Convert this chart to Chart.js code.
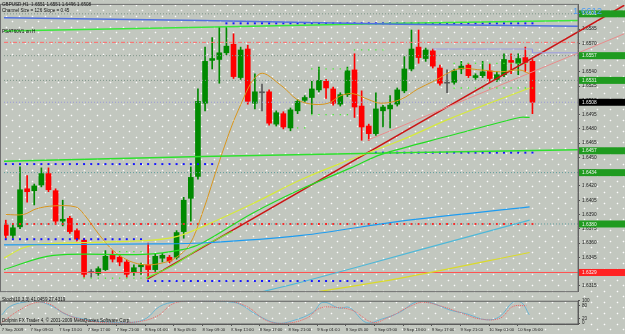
<!DOCTYPE html>
<html><head><meta charset="utf-8">
<script src="https://cdn.jsdelivr.net/npm/chart.js@4.4.1/dist/chart.umd.min.js"></script>
<style>
html,body{margin:0;padding:0;background:#c4c9c1;}
#wrap{position:relative;width:625px;height:334px;overflow:hidden;background-color:#c2c7bf;
background-image:radial-gradient(circle,rgba(255,255,255,0.95) 0.7px,rgba(255,255,255,0) 1.1px),radial-gradient(circle,rgba(255,255,255,0.95) 0.7px,rgba(255,255,255,0) 1.1px);
background-size:13px 11px,13px 11px;background-position:0 0,6px 5px;}
canvas{position:absolute;left:0;}
</style></head><body>
<div id="wrap">
<canvas id="main" width="625" height="296" style="top:0"></canvas>
<canvas id="stoch" width="625" height="38" style="top:296px"></canvas>
</div>
<script>
// ---- candles (GBPUSD H1, bar 0 = 7 Sep 05:00) ----
const opens  = [1.6379,1.6368,1.6377,1.6417,1.6415,1.6421,1.6433,1.6415,1.6383,1.6386,1.6373,1.6363,1.6329,1.6328,1.6332,1.6347,1.6345,1.6340,1.6329,1.6335,1.6337,1.6332,1.6344,1.6345,1.6345,1.6372,1.6407,1.6430,1.6507,1.6552,1.6553,1.6560,1.6569,1.6534,1.6564,1.6507,1.6518,1.6519,1.6485,1.6496,1.6481,1.6499,1.6510,1.6513,1.6521,1.6530,1.6522,1.6506,1.6516,1.6542,1.6504,1.6483,1.6475,1.6499,1.6501,1.6506,1.6520,1.6543,1.6566,1.6554,1.6562,1.6544,1.6528,1.6529,1.6543,1.6547,1.6534,1.6536,1.6541,1.6532,1.6537,1.6552,1.6549,1.6555,1.6551];
const highs  = [1.6384,1.6380,1.6440,1.6431,1.6422,1.6439,1.6439,1.6417,1.6405,1.6388,1.6375,1.6365,1.6332,1.6335,1.6352,1.6352,1.6348,1.6342,1.6337,1.6339,1.6360,1.6349,1.6349,1.6347,1.6373,1.6408,1.6440,1.6522,1.6566,1.6576,1.6587,1.6587,1.6580,1.6566,1.6568,1.6538,1.6527,1.6521,1.6499,1.6498,1.6502,1.6511,1.6515,1.6530,1.6545,1.6532,1.6524,1.6518,1.6545,1.6559,1.6520,1.6485,1.6518,1.6505,1.6515,1.6523,1.6556,1.6584,1.6584,1.6565,1.6564,1.6547,1.6542,1.6543,1.6551,1.6549,1.6538,1.6551,1.6548,1.6540,1.6559,1.6559,1.6559,1.6566,1.6553];
const lows   = [1.6365,1.6365,1.6375,1.6403,1.6400,1.6419,1.6414,1.6381,1.6378,1.6370,1.6362,1.6324,1.6324,1.6326,1.6331,1.6340,1.6336,1.6324,1.6326,1.6327,1.6324,1.6330,1.6340,1.6339,1.6343,1.6365,1.6383,1.6427,1.6499,1.6543,1.6528,1.6558,1.6533,1.6532,1.6506,1.6501,1.6499,1.6484,1.6483,1.6480,1.6478,1.6496,1.6508,1.6496,1.6519,1.6512,1.6505,1.6504,1.6514,1.6492,1.6468,1.6468,1.6473,1.6482,1.6481,1.6504,1.6518,1.6541,1.6549,1.6551,1.6544,1.6526,1.6518,1.6527,1.6538,1.6534,1.6532,1.6534,1.6530,1.6530,1.6535,1.6538,1.6537,1.6540,1.6496];
const closes = [1.6368,1.6376,1.6416,1.6414,1.6420,1.6433,1.6416,1.6383,1.6385,1.6372,1.6364,1.6327,1.6329,1.6333,1.6346,1.6343,1.6340,1.6327,1.6334,1.6337,1.6332,1.6346,1.6347,1.6341,1.6371,1.6405,1.6429,1.6509,1.6551,1.6554,1.6560,1.6567,1.6535,1.6563,1.6509,1.6519,1.6518,1.6486,1.6497,1.6482,1.6500,1.6509,1.6513,1.6522,1.6531,1.6523,1.6507,1.6516,1.6541,1.6503,1.6482,1.6475,1.6501,1.6503,1.6505,1.6521,1.6543,1.6564,1.6555,1.6563,1.6546,1.6528,1.6528,1.6541,1.6546,1.6536,1.6536,1.6540,1.6533,1.6537,1.6553,1.6550,1.6554,1.6550,1.6508];

// ---- axis ticks ----
const priceTicks = [1.6600,1.6585,1.6570,1.6555,1.6540,1.6525,1.6510,1.6495,1.6480,1.6465,1.6450,1.6435,1.6420,1.6405,1.6390,1.6375,1.6360,1.6345,1.6330,1.6315];
const timeTickBars = [0,4,8,12,16,20,24,28,32,36,40,44,48,52,56,60,64,68,72];
const timeLabels = ["7 Sep 2009","7 Sep 09:00","7 Sep 13:00","7 Sep 17:00","7 Sep 21:00","8 Sep 01:00","8 Sep 05:00","8 Sep 09:00","8 Sep 13:00","8 Sep 17:00","8 Sep 21:00","9 Sep 01:00","9 Sep 05:00","9 Sep 09:00","9 Sep 13:00","9 Sep 17:00","9 Sep 21:00","10 Sep 01:00","10 Sep 05:00"];
const stochTicks = [100,80,20,0];

// ---- indicator lines [bar, price] ----
const maOrange = [[0,1.6390],[2.5,1.6390],[4.3,1.6396],[6.7,1.6399],[9.8,1.6398],[10.9,1.6391],[13.2,1.6368],[15.1,1.6352],[17.4,1.6341],[19.7,1.6337],[22.0,1.6339],[23.8,1.6344],[25.8,1.6358],[27.6,1.6391],[30.1,1.6448],[32.8,1.6502],[35.7,1.6538],[38.8,1.6525],[40.9,1.6511],[43.0,1.6506],[45.3,1.6507],[47.1,1.6515],[48.8,1.6517],[50.9,1.6511],[52.7,1.6507],[55.5,1.6511],[57.9,1.6522],[60.1,1.6530],[63.5,1.6543],[66.7,1.6542],[69.5,1.6540],[72.2,1.6542],[73.6,1.6538]];
const maYellow = [[-0.3,1.6344],[2.5,1.6355],[5.3,1.6359],[13.7,1.6361],[20.6,1.6363],[24.1,1.6367],[27.6,1.6377],[34.6,1.6401],[41.6,1.6427],[48.5,1.6448],[55.5,1.6468],[62.5,1.6491],[73.6,1.6523]];
const maGreen = [[-0.3,1.6332],[6.7,1.6347],[19.3,1.6348],[24.8,1.6353],[27.6,1.6360],[34.6,1.6391],[41.6,1.6417],[48.5,1.6439],[52.7,1.6453],[62.5,1.6473],[72.2,1.6492],[73.6,1.6492]];
const maLime = [[19.7,1.6323],[23.4,1.6336],[27.6,1.6356],[31.8,1.6372]];
const maSky = [[-0.3,1.6358],[20.6,1.6359],[27.6,1.6360],[41.6,1.6368],[55.5,1.6383],[73.6,1.6398]];
const maTeal = [[33.9,1.6305],[41.6,1.6319],[58.3,1.6353],[73.6,1.6384]];
const maYellowLow = [[42.3,1.6307],[55.5,1.6323],[73.6,1.6350]];
const topBlue = [[-0.3,1.6597],[27.6,1.6594],[55.5,1.6590],[80.4,1.6588]];
const topGreen = [[-0.3,1.6583],[27.6,1.6587],[55.5,1.6591],[80.4,1.6594]];
const midGreen = [[-0.3,1.6446],[27.6,1.6451],[55.5,1.6455],[80.4,1.6458]];
const lavender = [[60,1.6564],[74,1.6564],[74,1.6560],[80.4,1.6560]];
const trendRed = [[19.9,1.6322],[86.9,1.6610]];
const trendPink = [[50.8,1.6468],[86.9,1.6580]];

// ---- horizontal levels ----
const blueDotLevels = [{from:0,to:29,price:1.6443},{from:0,to:19,price:1.6364},{from:20,to:50,price:1.6320},{from:51,to:74,price:1.6455},{from:31,to:74,price:1.6591}];
const redDotLevels = [{from:0,to:74,price:1.6380}];
const limeDotLevels = [{from:11,to:19,price:1.6323},{from:16,to:19,price:1.6351},{from:41,to:42,price:1.6481},{from:43,to:48,price:1.6543},{from:43,to:48,price:1.6495},{from:49,to:53,price:1.6563},{from:63,to:73,price:1.6549},{from:63,to:74,price:1.6523}];
const boxLevels = [{price:1.6601,kind:'g'},{price:1.6557,kind:'g'},{price:1.6531,kind:'g'},{price:1.6508,kind:'k'},{price:1.6457,kind:'g'},{price:1.6434,kind:'g'},{price:1.6380,kind:'g'},{price:1.6329,kind:'r'}];
const redDashLevel = 1.6571;

// ---- stochastic [bar, value] ----
const stochK = [[0,37],[1.1,74],[3.5,96],[5.3,96],[7.1,74],[9.1,37],[11.3,19],[13.7,7],[18.3,4],[20.2,22],[22.0,74],[24.4,96],[27.6,100],[31.4,96],[33.2,85],[35.6,37],[38.4,0],[40.6,11],[43.4,48],[44.8,93],[47.1,67],[48.5,70],[50.9,2],[53.1,19],[55.5,48],[57.9,96],[59.7,93],[62.5,59],[64.9,41],[67.6,15],[69.5,30],[71.3,93],[72.5,93],[73.6,37]];
const stochD = [[0,4],[2.5,59],[4.9,93],[6.7,85],[8.5,48],[10.5,22],[13.7,4],[18.3,4],[21.6,30],[23.8,85],[26.2,100],[31.4,100],[34.2,74],[37.0,11],[39.7,0],[42.5,22],[44.4,67],[46.7,70],[49.0,56],[51.7,4],[53.7,22],[56.9,74],[58.7,93],[61.1,78],[63.9,48],[66.7,19],[69.5,22],[71.3,74],[73.2,78]];

const X_MIN=-0.25, X_MAX=80.4, Y_MIN=1.63094, Y_MAX=1.66104;
const FONT='"Liberation Sans", Arial, sans-serif';

const idx = closes.map((_,i)=>i);
const col = idx.map(i => closes[i]>opens[i] ? '#008a00' : (closes[i]<opens[i] ? '#ff0000' : '#5a5a5a'));
const pts = a => a.map(([x,y])=>({x,y}));
const lvl = L => { const o=[]; L.forEach(l=>{ for(let i=l.from;i<=l.to;i++) o.push({x:i,y:l.price}); }); return o; };

function line(data,color,w,extra){ return Object.assign({type:'line',data:pts(data),borderColor:color,borderWidth:w,pointRadius:0,tension:0.35,order:1,fill:false},extra||{}); }
function hline(p,color,w,dash){ return {type:'line',data:[{x:X_MIN,y:p},{x:X_MAX,y:p}],borderColor:color,borderWidth:w,borderDash:dash||[],pointRadius:0,order:15}; }
function dots(L,color,r,style){ return {type:'line',data:lvl(L),showLine:false,pointStyle:style||'rect',pointRadius:r,pointBackgroundColor:color,pointBorderWidth:0,order:2}; }

const overflow = {left:0,top:0,right:50,bottom:0};

const mainPlugin = {
  id:'mainDeco',
  afterDraw(c){
    const ctx=c.ctx, a=c.chartArea, ys=c.scales.y;
    ctx.save();
    ctx.strokeStyle='#707070'; ctx.lineWidth=1;
    ctx.strokeRect(0.5,a.top-0.5,a.right-0.5,a.bottom-a.top+1);
    // axis boxes
    ctx.font='4.8px '+FONT; ctx.textBaseline='middle';
    boxLevels.forEach(b=>{
      const y=ys.getPixelForValue(b.price);
      ctx.fillStyle = b.kind==='g' ? '#1f9b1f' : (b.kind==='k' ? '#000000' : '#ff2222');
      ctx.fillRect(a.right+1,y-3.5,46,7);
      ctx.fillStyle = '#f4f4f4';
      ctx.fillText(b.price.toFixed(4),a.right+4,y+0.3);
    });
    // texts
    ctx.fillStyle='#111'; ctx.font='4.6px '+FONT;
    ctx.fillText('GBPUSD,H1  1.6551 1.6551 1.6496 1.6508',2,5);
    ctx.fillText('Channel Size = 126 Slope = 0.45',2,10.5);
    ctx.fillText('PSAT60V1 on H',2,32);
    ctx.fillStyle='#4f9cf0'; ctx.font='9.5px '+FONT;
    ctx.fillText('1.6612',573,11);
    ctx.restore();
  }
};

new Chart(document.getElementById('main'),{
  type:'bar',
  data:{datasets:[
    {type:'bar',data:idx.map(i=>({x:i,y:[lows[i],highs[i]]})),backgroundColor:col,barThickness:1,grouped:false,order:21},
    {type:'bar',data:idx.map(i=>({x:i,y:[opens[i],closes[i]]})),backgroundColor:col,barThickness:5,minBarLength:1,grouped:false,order:20},
    hline(boxLevels[0].price,'#7f968a',1,[1,2]),
    hline(boxLevels[1].price,'#7f968a',1,[1,2]),
    hline(boxLevels[2].price,'#7f968a',1,[1,2]),
    hline(boxLevels[3].price,'#9a9ad8',1,[1,2]),
    hline(boxLevels[5].price,'#5f9c9c',1,[1,2]),
    hline(boxLevels[6].price,'#5f9c9c',1,[1,2]),
    hline(boxLevels[7].price,'#ff5050',1),
    hline(redDashLevel,'#ff6a6a',1,[4,2,1,2]),
    dots(blueDotLevels,'#1414ff',1.4),
    dots(redDotLevels,'#ff2020',1.3),
    dots(limeDotLevels,'#44ee33',0.9),
    line(topBlue,'#5070e0',1.5,{tension:0}),
    line(topGreen,'#3ae83a',1.5,{tension:0}),
    line(midGreen,'#2ee02e',1.5,{tension:0}),
    line(lavender,'#9a9ae0',1,{tension:0}),
    line(maSky,'#1e9cf0',1.2),
    line(maTeal,'#4fb8d8',1.2),
    line(maYellowLow,'#dada2a',1.2),
    line(maGreen,'#22dd22',1.2),
    line(maLime,'#66ee33',1.2),
    line(maYellow,'#d6ea3a',1.2),
    line(maOrange,'#d8961e',1),
    line(trendPink,'#e88c8c',1,{tension:0,clip:overflow}),
    line(trendRed,'#cc1414',1.5,{tension:0,clip:overflow})
  ]},
  options:{
    responsive:false, animation:false, events:[],
    layout:{padding:{top:2,bottom:2,left:0,right:0}},
    plugins:{legend:{display:false},tooltip:{enabled:false}},
    scales:{
      x:{type:'linear',min:X_MIN,max:X_MAX,display:false,offset:false},
      y:{type:'linear',position:'right',min:Y_MIN,max:Y_MAX,beginAtZero:false,
        afterFit:s=>{s.width=47;},
        afterBuildTicks:s=>{s.ticks=priceTicks.map(v=>({value:v}));},
        ticks:{autoSkip:false,font:{family:FONT,size:4.8},color:'#222',padding:2,callback:v=>Number(v).toFixed(4)},
        grid:{drawOnChartArea:false,tickLength:2,color:'#555'},
        border:{color:'#555'}}
    }
  },
  plugins:[mainPlugin]
});

const stochPlugin = {
  id:'stochDeco',
  afterDraw(c){
    const ctx=c.ctx, a=c.chartArea;
    ctx.save();
    ctx.strokeStyle='#606060'; ctx.lineWidth=1;
    ctx.strokeRect(0.5,a.top+0.5,a.right-0.5,a.bottom-a.top-0.5);
    ctx.fillStyle='#111'; ctx.font='4.6px '+FONT; ctx.textBaseline='middle';
    ctx.fillText('Stoch(10,3,3) 41.0459 27.4319',2,4);
    ctx.fillText('Dolphin FX Trader 4, \u00a9 2001-2009 MetaQuotes Software Corp.',2,25);
    ctx.restore();
  }
};

new Chart(document.getElementById('stoch'),{
  type:'line',
  data:{datasets:[
    {data:pts(stochD),borderColor:'#ee6060',borderWidth:1,borderDash:[1,1],pointRadius:0,tension:0.4},
    {data:pts(stochK),borderColor:'#6ab4d2',borderWidth:1,pointRadius:0,tension:0.4}
  ]},
  options:{
    responsive:false, animation:false, events:[],
    layout:{padding:{top:0,bottom:0,left:0,right:0}},
    plugins:{legend:{display:false},tooltip:{enabled:false}},
    scales:{
      x:{type:'linear',min:X_MIN,max:X_MAX,offset:false,
        afterFit:s=>{s.height=10;},
        afterBuildTicks:s=>{s.ticks=timeTickBars.map(v=>({value:v}));},
        ticks:{autoSkip:false,maxRotation:0,align:'start',font:{family:FONT,size:4.2},color:'#222',padding:1,callback:(v,i)=>timeLabels[i]},
        grid:{drawOnChartArea:false,tickLength:2,color:'#555'},
        border:{color:'#555'}},
      y:{type:'linear',position:'right',min:-3.7,max:100,
        afterFit:s=>{s.width=47;},
        afterBuildTicks:s=>{s.ticks=stochTicks.map(v=>({value:v}));},
        ticks:{autoSkip:false,font:{family:FONT,size:4.6},color:'#222',padding:2},
        grid:{drawOnChartArea:false,tickLength:2,color:'#555'},
        border:{color:'#555'}}
    }
  },
  plugins:[stochPlugin]
});
</script>
</body></html>
